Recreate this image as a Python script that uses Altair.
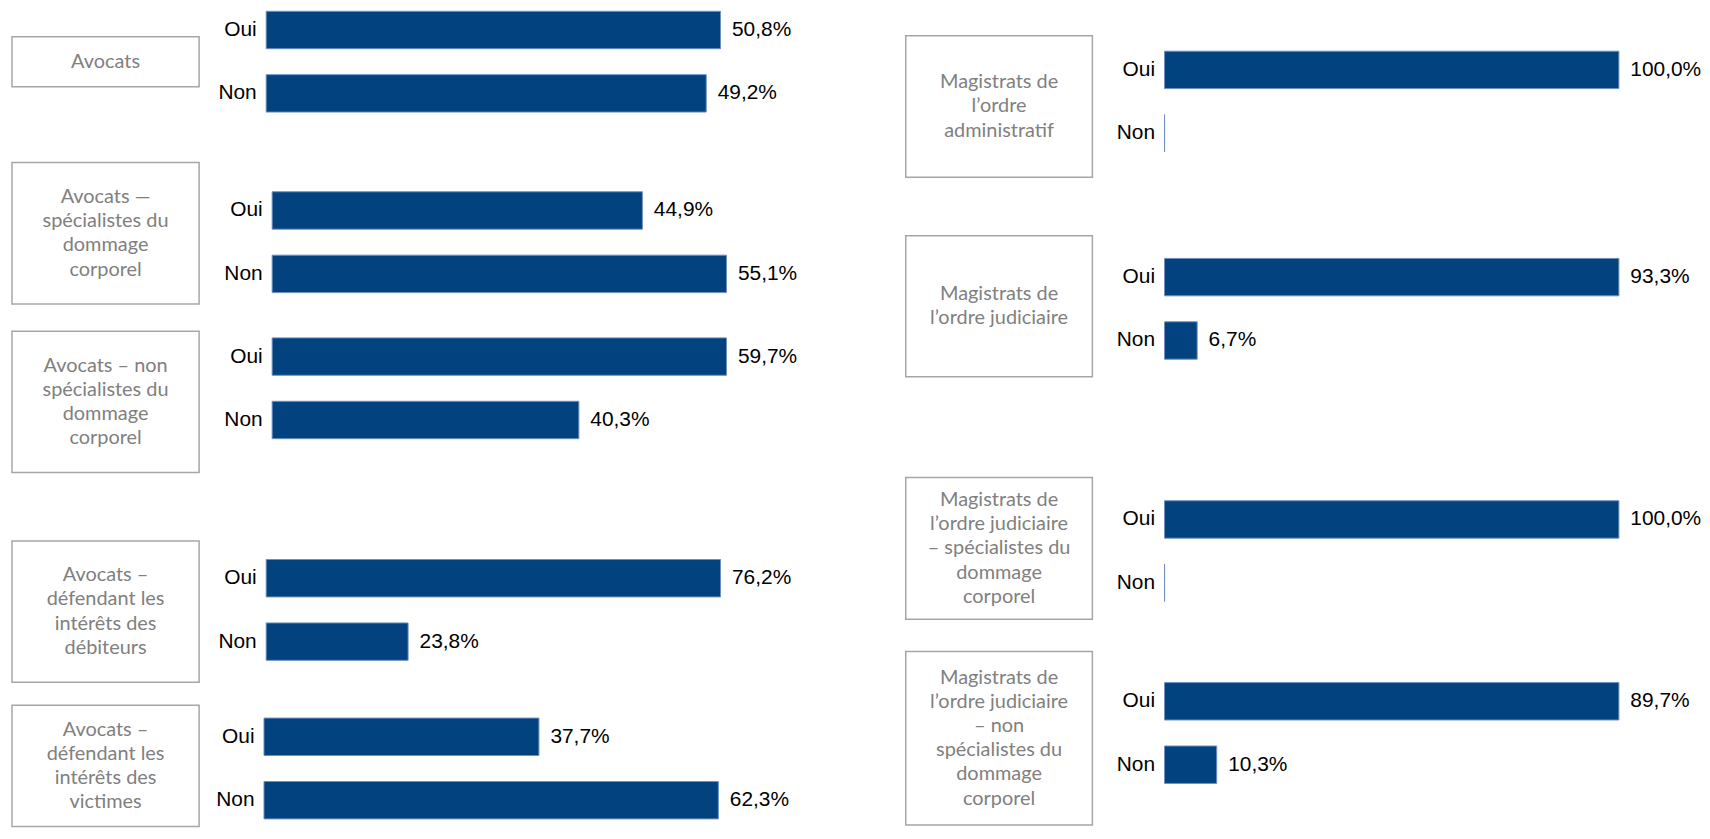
import altair as alt
import pandas as pd

# ---- data -------------------------------------------------------------
groups = [
    "Avocats",
    "Avocats —\nspécialistes du\ndommage\ncorporel",
    "Avocats –  non\nspécialistes du\ndommage\ncorporel",
    "Avocats –\ndéfendant les\nintérêts des\ndébiteurs",
    "Avocats –\ndéfendant les\nintérêts des\nvictimes",
    "Magistrats de\nl’ordre\nadministratif",
    "Magistrats de\nl’ordre judiciaire",
    "Magistrats de\nl’ordre judiciaire\n– spécialistes du\ndommage\ncorporel",
    "Magistrats de\nl’ordre judiciaire\n– non\nspécialistes du\ndommage\ncorporel",
]
answers = ["Oui", "Non"]
oui = [50.8, 44.9, 59.7, 76.2, 37.7, 100.0, 93.3, 100.0, 89.7]
non = [49.2, 55.1, 40.3, 23.8, 62.3, 0.0, 6.7, 0.0, 10.3]

# ---- style / layout ---------------------------------------------------
BAR = "#01427f"
BAR_EDGE = "#6f8fbf"
BOX_STROKE = "#a6a6a6"
BOX_TEXT = "#808080"
LABEL_FONT = "Liberation Sans, Arial, sans-serif"
BOX_FONT = "Lato, Open Sans, sans-serif"
BAR_W = 456.5
STEP = 63.7
PAD_IN = 0.41
LINE_H = 24.3


def fr(v):
    return f"{v:.1f}".replace(".", ",") + "%"


def panel(i, box_w, box_h, bars_h, bars_top, inner_gap):
    df = pd.DataFrame({"rep": answers, "val": [oui[i], non[i]]})
    df["lab"] = [fr(v) for v in df["val"]]
    extent = STEP * (2 - PAD_IN)
    pad_out = max(0.0, (bars_h / STEP - 2 + PAD_IN) / 2)
    free = bars_h - extent
    align = min(1.0, max(0.0, bars_top / free)) if free > 0.5 else 0.5

    y = alt.Y(
        "rep:N",
        sort=answers,
        title=None,
        scale=alt.Scale(paddingInner=PAD_IN, paddingOuter=pad_out, align=align),
        axis=alt.Axis(
            domain=False,
            ticks=False,
            labelFontSize=21,
            labelFont=LABEL_FONT,
            labelColor="#000000",
            labelPadding=10,
        ),
    )
    x = alt.X("val:Q", axis=None, scale=alt.Scale(nice=False, zero=True))

    base = alt.Chart(df)
    bars = base.mark_bar(color=BAR, stroke=BAR_EDGE, strokeWidth=1).encode(x=x, y=y)
    labels = (
        base.transform_filter("datum.val > 0")
        .mark_text(
            align="left",
            baseline="middle",
            dx=11.5,
            fontSize=21,
            font=LABEL_FONT,
            color="#000000",
        )
        .encode(x=x, y=y, text="lab:N")
    )
    barchart = (bars + labels).properties(width=BAR_W, height=bars_h)

    n_lines = groups[i].count("\n") + 1
    box = (
        alt.Chart(pd.DataFrame({"t": [groups[i]]}))
        .mark_text(
            font=BOX_FONT,
            fontSize=20,
            color=BOX_TEXT,
            lineBreak="\n",
            lineHeight=LINE_H,
            align="center",
            baseline="middle",
        )
        .encode(
            x=alt.value(box_w / 2),
            y=alt.value(box_h / 2 - (n_lines - 1) * LINE_H / 2),
            text="t:N",
        )
        .properties(
            width=box_w,
            height=box_h,
            view=alt.ViewBackground(stroke=BOX_STROKE, strokeWidth=1.5),
        )
    )
    return alt.hconcat(box, barchart, spacing=inner_gap, bounds="flush", center=True)


# left column
left_specs = [
    # box_w, box_h, bars_h, bars_top, inner_gap
    (188, 50.3, 101.3, 0, 67.4),
    (188, 142, 142, 29.3, 73.4),
    (188, 142, 142, 6.7, 73.4),
    (188, 142, 142, 18.7, 67.4),
    (188, 122, 122, 13, 65.2),
]
left_gaps = [48.4, 24.8, 66.5, 20.5]

right_specs = [
    (187.5, 142.3, 191.7, 40.3, 72),
    (187.5, 141.7, 141.7, 22.7, 72),
    (187.5, 142.3, 142.3, 23.3, 72),
    (187.5, 174.3, 174.3, 31.3, 72),
]
right_gaps = [32.8, 98.5, 30.2]

left_panels = [panel(k, *s) for k, s in enumerate(left_specs)]
right_panels = [panel(k + 5, *s) for k, s in enumerate(right_specs)]

left_col = left_panels[0]
for g, p in zip(left_gaps, left_panels[1:]):
    left_col = alt.vconcat(left_col, p, spacing=g)

right_col = right_panels[0]
for g, p in zip(right_gaps, right_panels[1:]):
    right_col = alt.vconcat(right_col, p, spacing=g)

chart = (
    alt.hconcat(left_col, right_col, spacing=108)
    .properties(padding={"left": 3, "top": 0, "right": 0, "bottom": 0}, background="white")
    .configure_view(stroke=None)
)

chart.save("out.html", embed_options={"renderer": "svg", "actions": False})
